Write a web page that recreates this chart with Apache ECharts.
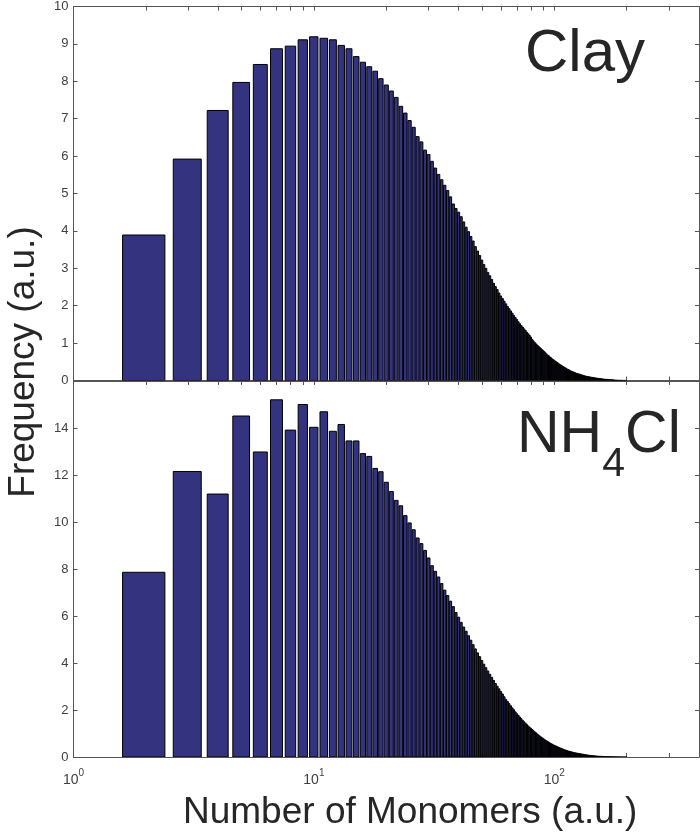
<!DOCTYPE html>
<html>
<head>
<meta charset="utf-8">
<script src="https://cdn.jsdelivr.net/npm/echarts@6/dist/echarts.min.js"></script>
<style>html,body{margin:0;padding:0;background:#fff}#c{width:700px;height:832px}</style>
</head>
<body>
<div id="c"></div>
<script>
// Number of monomers (bar centres), n = 2..200
const monomers = [2,3,4,5,6,7,8,9,10,11,12,13,14,15,16,17,18,19,20,21,22,23,24,25,26,27,28,29,30,31,32,33,34,35,36,37,38,39,40,41,42,43,44,45,46,47,48,49,50,51,52,53,54,55,56,57,58,59,60,61,62,63,64,65,66,67,68,69,70,71,72,73,74,75,76,77,78,79,80,81,82,83,84,85,86,87,88,89,90,91,92,93,94,95,96,97,98,99,100,101,102,103,104,105,106,107,108,109,110,111,112,113,114,115,116,117,118,119,120,121,122,123,124,125,126,127,128,129,130,131,132,133,134,135,136,137,138,139,140,141,142,143,144,145,146,147,148,149,150,151,152,153,154,155,156,157,158,159,160,161,162,163,164,165,166,167,168,169,170,171,172,173,174,175,176,177,178,179,180,181,182,183,184,185,186,187,188,189,190,191,192,193,194,195,196,197,198,199,200];

// Frequency (a.u.) — Clay panel
const clayFreq = [3.89,5.92,7.22,7.97,8.45,8.87,8.94,9.11,9.19,9.15,9.11,8.96,8.87,8.66,8.51,8.39,8.27,8.07,7.90,7.74,7.57,7.33,7.15,6.95,6.77,6.52,6.38,6.16,6.04,5.86,5.68,5.51,5.37,5.22,5.08,4.91,4.72,4.60,4.50,4.38,4.24,4.10,3.98,3.85,3.73,3.58,3.46,3.34,3.22,3.10,3.00,2.89,2.80,2.70,2.60,2.51,2.43,2.34,2.26,2.19,2.12,2.05,1.98,1.92,1.86,1.80,1.74,1.68,1.63,1.57,1.52,1.47,1.43,1.38,1.34,1.29,1.25,1.21,1.16,1.10,1.06,1.02,0.98,0.95,0.92,0.89,0.86,0.83,0.80,0.77,0.74,0.71,0.68,0.66,0.63,0.61,0.58,0.56,0.54,0.52,0.50,0.48,0.46,0.44,0.42,0.41,0.39,0.37,0.36,0.34,0.33,0.31,0.30,0.29,0.27,0.26,0.25,0.24,0.23,0.22,0.21,0.20,0.19,0.185,0.18,0.17,0.165,0.16,0.15,0.145,0.14,0.13,0.125,0.12,0.115,0.11,0.105,0.10,0.10,0.095,0.09,0.088,0.085,0.08,0.077,0.074,0.07,0.068,0.065,0.062,0.06,0.057,0.055,0.052,0.05,0.048,0.045,0.043,0.04,0.038,0.036,0.035,0.033,0.032,0.03,0.029,0.027,0.026,0.025,0.023,0.022,0.021,0.02,0.018,0.017,0.016,0.015,0.014,0.012,0.011,0.011,0.01,0.009,0.009,0.008,0.008,0.007,0.007,0.006,0.006,0.005,0.005,0.005,0.004,0.004,0.004,0.003,0.003,0.003];

// Frequency (a.u.) — NH4Cl panel
const nh4clFreq = [7.86,12.15,11.19,14.51,12.98,15.20,13.91,15.00,14.03,14.69,13.86,14.15,13.45,13.45,12.91,12.79,12.28,12.14,11.69,11.30,10.92,10.69,10.27,9.96,9.67,9.32,9.08,8.79,8.47,8.14,7.90,7.66,7.38,7.10,6.87,6.63,6.40,6.15,5.95,5.73,5.53,5.35,5.16,4.97,4.78,4.60,4.43,4.27,4.11,3.95,3.80,3.66,3.52,3.39,3.26,3.13,3.01,2.90,2.79,2.68,2.56,2.45,2.36,2.27,2.18,2.09,2.01,1.92,1.84,1.77,1.70,1.63,1.56,1.50,1.44,1.38,1.32,1.27,1.22,1.17,1.12,1.07,1.03,0.98,0.94,0.90,0.86,0.82,0.79,0.75,0.72,0.69,0.66,0.63,0.60,0.57,0.55,0.52,0.50,0.48,0.46,0.44,0.42,0.40,0.38,0.37,0.35,0.33,0.32,0.30,0.29,0.28,0.26,0.25,0.24,0.23,0.22,0.21,0.20,0.19,0.18,0.175,0.17,0.16,0.155,0.15,0.14,0.135,0.13,0.125,0.12,0.11,0.105,0.10,0.095,0.09,0.085,0.08,0.075,0.07,0.067,0.064,0.06,0.057,0.054,0.05,0.048,0.045,0.042,0.04,0.038,0.036,0.034,0.032,0.03,0.028,0.026,0.024,0.022,0.021,0.02,0.019,0.018,0.017,0.016,0.015,0.014,0.013,0.012,0.011,0.01,0.01,0.009,0.008,0.008,0.007,0.007,0.006,0.006,0.005,0.005,0.005,0.004,0.004,0.004,0.003,0.003,0.003,0.003,0.002,0.002,0.002,0.002,0.002,0.002,0.002,0.002,0.002,0.002];

// Axis tick values
const xTickValues = [1,2,3,4,5,6,7,8,9,10,20,30,40,50,60,70,80,90,100,200,300];
const xLabelValues = [1,10,100];
const xRange = [1, 400];
const clayYRange = [0, 10, 1];
const nh4clYRange = [0, 16, 2];
const barWidth = 0.8;

const FONT = "'Liberation Sans', Arial, Helvetica, sans-serif";
const AXIS_COLOR = '#555';
const TEXT_COLOR = '#262626';
const LABEL_COLOR = '#404040';
const BAR_FILL = '#333380';

const grids = [
  {left: 73.5, top: 4.5, width: 625.5, height: 376},
  {left: 73.5, top: 381, width: 625.5, height: 376}
];

function xAxisDef(gridIndex, position, showLabels) {
  return {
    type: 'log', gridIndex, position, min: xRange[0], max: xRange[1], logBase: 10,
    axisLine: {show: true, onZero: false, lineStyle: {color: AXIS_COLOR, width: 1}},
    axisTick: {show: true, inside: true, length: 4, customValues: xTickValues, lineStyle: {color: AXIS_COLOR, width: 1}},
    minorTick: {show: false},
    splitLine: {show: false},
    axisLabel: showLabels ? {
      show: true, customValues: xLabelValues, margin: 11,
      formatter: v => '{b|10}{s|' + Math.round(Math.log10(v)) + '}',
      rich: {
        b: {fontFamily: FONT, fontSize: 14, color: LABEL_COLOR, lineHeight: 14, padding: [5, 0, 0, 0], verticalAlign: 'top'},
        s: {fontFamily: FONT, fontSize: 10, color: LABEL_COLOR, lineHeight: 10, verticalAlign: 'top'}
      }
    } : {show: false}
  };
}

function yAxisDef(gridIndex, position, range, showLabels, hideMax) {
  return {
    type: 'value', gridIndex, position, min: range[0], max: range[1], interval: range[2],
    axisLine: {show: true, onZero: false, lineStyle: {color: AXIS_COLOR, width: 1}},
    axisTick: {show: true, inside: true, length: 4, lineStyle: {color: AXIS_COLOR, width: 1}},
    splitLine: {show: false},
    axisLabel: showLabels ? {
      show: true, margin: 5, fontFamily: FONT, fontSize: 13, color: LABEL_COLOR,
      showMaxLabel: !hideMax, showMinLabel: true
    } : {show: false}
  };
}

function barSeries(values, xIdx, yIdx) {
  const data = monomers.map((n, i) => [n, values[i]]);
  return {
    type: 'custom',
    xAxisIndex: xIdx, yAxisIndex: yIdx,
    data,
    encode: {x: 0, y: 1},
    clip: true,
    renderItem: function (params, api) {
      const n = api.value(0), v = api.value(1);
      const p0 = api.coord([n - barWidth / 2, 0]);
      const p1 = api.coord([n + barWidth / 2, v]);
      return {
        type: 'rect',
        shape: {x: p0[0], y: p1[1], width: p1[0] - p0[0], height: p0[1] - p1[1]},
        style: {fill: BAR_FILL, stroke: '#000', lineWidth: 1}
      };
    }
  };
}

const chart = echarts.init(document.getElementById('c'), null, {renderer: 'canvas'});
chart.setOption({
  animation: false,
  backgroundColor: '#fff',
  grid: grids,
  xAxis: [
    xAxisDef(0, 'bottom', false),
    xAxisDef(0, 'top', false),
    xAxisDef(1, 'bottom', true),
    xAxisDef(1, 'top', false)
  ],
  yAxis: [
    yAxisDef(0, 'left', clayYRange, true, false),
    yAxisDef(0, 'right', clayYRange, false, false),
    yAxisDef(1, 'left', nh4clYRange, true, true),
    yAxisDef(1, 'right', nh4clYRange, false, false)
  ],
  series: [
    barSeries(clayFreq, 0, 0),
    barSeries(nh4clFreq, 2, 2)
  ],
  graphic: [
    {type: 'text', left: 525, top: 24, style: {text: 'Clay', fontFamily: FONT, fontSize: 60, fill: TEXT_COLOR}},
    {type: 'text', x: 517, y: 406, style: {
      text: '{a|NH}{b|4}{a|Cl}', fontFamily: FONT, fill: TEXT_COLOR, verticalAlign: 'top',
      rich: {
        a: {fontFamily: FONT, fontSize: 59, lineHeight: 60, verticalAlign: 'top', fill: TEXT_COLOR},
        b: {fontFamily: FONT, fontSize: 41, lineHeight: 42, padding: [38, 0, 0, 0], verticalAlign: 'top', fill: TEXT_COLOR}
      }
    }},
    {type: 'text', x: 183, y: 813, style: {text: 'Number of Monomers (a.u.)', fontFamily: FONT, fontSize: 37, fill: TEXT_COLOR, verticalAlign: 'middle'}},
    {type: 'text', x: 24, y: 362, rotation: Math.PI / 2, style: {text: 'Frequency (a.u.)', fontFamily: FONT, fontSize: 37, fill: TEXT_COLOR, align: 'center', verticalAlign: 'middle'}}
  ]
});
</script>
</body>
</html>
